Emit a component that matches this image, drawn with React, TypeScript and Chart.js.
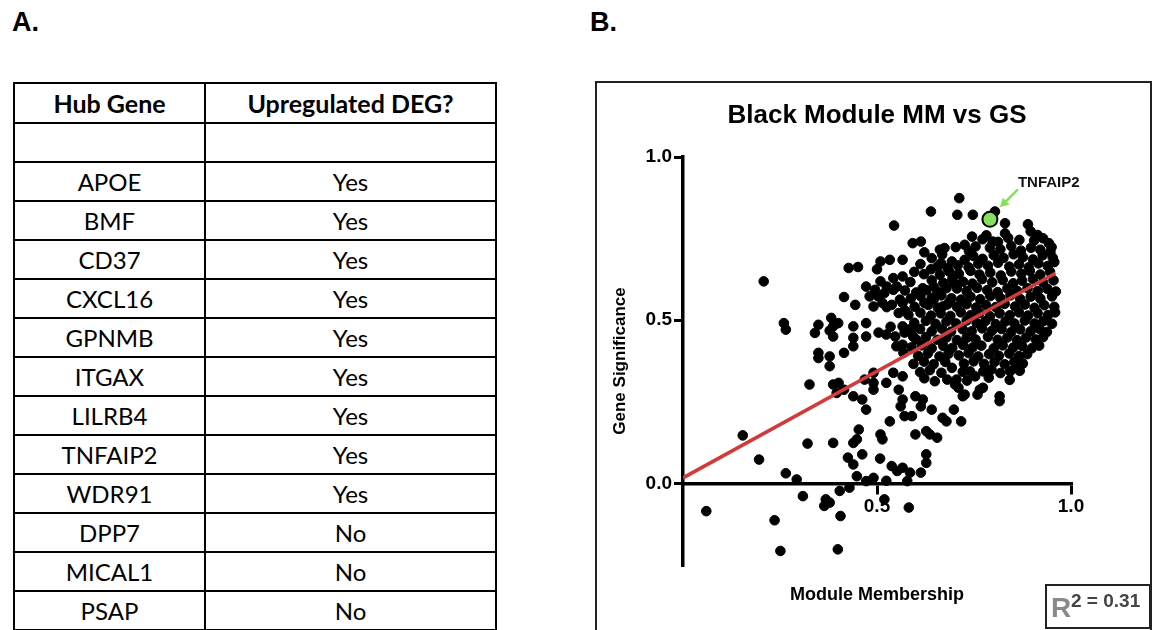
import React, { useEffect, useRef } from "react";
import { Chart, registerables } from "chart.js";

Chart.register(...registerables);

// ---------- Panel A data ----------
const tableHeaders = ["Hub Gene", "Upregulated DEG?"];
const hubGenes = ["APOE", "BMF", "CD37", "CXCL16", "GPNMB", "ITGAX", "LILRB4", "TNFAIP2", "WDR91", "DPP7", "MICAL1", "PSAP"];
const upregulatedDEG = ["Yes", "Yes", "Yes", "Yes", "Yes", "Yes", "Yes", "Yes", "Yes", "No", "No", "No"];

// ---------- Panel B data ----------
const chartTitle = "Black Module MM vs GS";
const xAxisTitle = "Module Membership";
const yAxisTitle = "Gene Significance";
const xTickValues = [0.5, 1.0];
const yTickValues = [0, 0.5, 1.0];
const highlightGene = "TNFAIP2";
const highlightPoint: [number, number] = [0.791, 0.809];
const regressionX = [0, 0.96];
const regressionY = [0.017, 0.644];
const rSquared = "0.31";

// [module membership, gene significance]
const blackModulePoints: [number, number][] = [
  [0.712,0.874],[0.639,0.833],[0.707,0.823],[0.747,0.823],[0.804,0.833],[0.544,0.790],[0.830,0.797],[0.889,0.794],[0.896,0.772],[0.745,0.756],[0.830,0.766],[0.592,0.736],[0.613,0.741],[0.622,0.708],[0.674,0.721],[0.726,0.731],[0.754,0.726],[0.782,0.760],[0.812,0.740],[0.867,0.746],[0.914,0.761],[0.943,0.736],[0.947,0.710],
  [0.566,0.685],[0.533,0.685],[0.509,0.680],[0.427,0.660],[0.451,0.663],[0.500,0.656],[0.639,0.656],[0.665,0.675],[0.693,0.680],[0.726,0.685],
  [0.208,0.619],
  [0.472,0.603],[0.509,0.619],[0.542,0.629],[0.566,0.634],[0.551,0.603],[0.525,0.603],[0.618,0.598],[0.646,0.603],[0.679,0.598],[0.698,0.614],
  [0.481,0.573],[0.495,0.593],[0.503,0.573],[0.519,0.583],[0.542,0.593],[0.415,0.571],[0.444,0.547],[0.491,0.542],[0.514,0.553],[0.525,0.540],[0.538,0.547],[0.566,0.553],[0.559,0.563],[0.556,0.522],[0.572,0.530],[0.622,0.553],[0.646,0.563],[0.669,0.542],[0.688,0.558],[0.717,0.563],
  [0.260,0.491],[0.265,0.471],[0.340,0.461],[0.349,0.486],[0.382,0.507],[0.387,0.481],[0.400,0.491],[0.378,0.468],[0.387,0.450],[0.439,0.481],[0.439,0.446],[0.472,0.491],[0.472,0.450],[0.504,0.462],[0.524,0.456],[0.535,0.480],[0.547,0.450],[0.566,0.481],[0.571,0.462],[0.584,0.472],[0.593,0.450],[0.550,0.420],[0.566,0.425],[0.568,0.400],
  [0.349,0.400],[0.378,0.389],[0.415,0.400],[0.349,0.384],[0.378,0.359],[0.439,0.420],
  [0.326,0.303],[0.387,0.303],[0.401,0.308],[0.396,0.277],[0.415,0.287],[0.439,0.267],[0.462,0.257],[0.472,0.226],[0.468,0.318],[0.491,0.308],[0.491,0.287],[0.491,0.339],[0.524,0.308],[0.542,0.339],[0.566,0.328],[0.556,0.287],[0.566,0.257],[0.561,0.236],[0.533,0.190],[0.571,0.206],[0.590,0.206],[0.599,0.267],[0.618,0.257],[0.613,0.236],[0.641,0.226],[0.599,0.150],[0.627,0.160],[0.636,0.150],[0.655,0.140],[0.669,0.201],[0.679,0.190],[0.698,0.226],[0.717,0.190],[0.721,0.267],[0.726,0.272],[0.759,0.272],[0.773,0.293],[0.816,0.267],[0.816,0.252],
  [0.509,0.150],[0.514,0.135],[0.453,0.165],[0.448,0.135],[0.439,0.124],[0.462,0.089],[0.425,0.079],[0.439,0.058],[0.448,0.022],[0.387,0.124],[0.321,0.122],[0.154,0.147],[0.196,0.073],[0.265,0.031],[0.293,0.012],[0.508,0.076],[0.538,0.053],[0.552,0.038],[0.566,0.048],[0.585,0.033],[0.613,0.033],[0.627,0.063],[0.627,0.089],[0.491,0.017],[0.472,0.007],[0.524,0.008],[0.578,0.007],
  [0.309,-0.039],[0.404,-0.023],[0.429,-0.013],[0.368,-0.049],[0.378,-0.059],[0.364,-0.069],[0.406,-0.100],[0.060,-0.085],[0.236,-0.113],[0.251,-0.207],[0.399,-0.202],[0.519,-0.049],[0.582,-0.074],
  [0.649,0.313],[0.740,0.343],[0.753,0.328],[0.774,0.343],[0.795,0.349],[0.843,0.343],[0.856,0.354],[0.693,0.354],[0.705,0.318],[0.701,0.303],[0.710,0.293],[0.765,0.287],
  [0.772,0.748],[0.798,0.741],[0.838,0.752],[0.905,0.744],[0.928,0.751],
  [0.662,0.716],[0.703,0.724],[0.737,0.712],[0.791,0.722],[0.818,0.717],[0.846,0.727],[0.871,0.713],[0.897,0.722],[0.921,0.716],[0.950,0.724],
  [0.641,0.690],[0.668,0.701],[0.748,0.697],[0.772,0.688],[0.801,0.699],[0.826,0.691],[0.852,0.702],[0.876,0.693],[0.902,0.686],[0.927,0.699],[0.953,0.691],
  [0.612,0.672],[0.656,0.664],[0.682,0.659],[0.708,0.668],[0.736,0.662],[0.761,0.673],[0.786,0.667],[0.812,0.676],[0.841,0.664],[0.866,0.671],[0.891,0.662],[0.916,0.674],[0.940,0.666],[0.957,0.678],
  [0.596,0.648],[0.621,0.641],[0.662,0.639],[0.687,0.648],[0.711,0.642],[0.741,0.651],[0.764,0.640],[0.792,0.646],[0.819,0.637],[0.846,0.649],[0.872,0.642],[0.894,0.651],[0.921,0.640],[0.946,0.648],
  [0.586,0.617],[0.641,0.622],[0.671,0.614],[0.694,0.625],[0.722,0.618],[0.746,0.612],[0.771,0.626],[0.797,0.616],[0.824,0.623],[0.851,0.613],[0.874,0.621],[0.902,0.626],[0.928,0.615],[0.955,0.622],
  [0.572,0.591],[0.601,0.585],[0.627,0.592],[0.656,0.588],[0.706,0.597],[0.731,0.589],[0.758,0.599],[0.784,0.592],[0.811,0.586],[0.836,0.597],[0.861,0.590],[0.888,0.598],[0.914,0.589],[0.939,0.596],[0.961,0.588],
  [0.587,0.566],[0.612,0.574],[0.641,0.569],[0.666,0.576],[0.692,0.567],[0.741,0.572],[0.766,0.564],[0.792,0.574],[0.818,0.568],[0.844,0.576],[0.869,0.565],[0.896,0.572],[0.921,0.566],[0.951,0.573],
  [0.597,0.541],[0.632,0.547],[0.657,0.538],[0.681,0.548],[0.706,0.541],[0.731,0.549],[0.756,0.539],[0.781,0.546],[0.806,0.540],[0.829,0.550],[0.856,0.542],[0.881,0.548],[0.906,0.538],[0.931,0.546],[0.957,0.541],
  [0.581,0.516],[0.612,0.523],[0.639,0.514],[0.664,0.521],[0.689,0.513],[0.716,0.524],[0.741,0.515],[0.764,0.522],[0.791,0.512],[0.816,0.521],[0.842,0.515],[0.866,0.524],[0.889,0.514],[0.914,0.521],[0.941,0.516],[0.959,0.524],
  [0.596,0.492],[0.626,0.498],[0.651,0.489],[0.679,0.496],[0.704,0.490],[0.731,0.499],[0.757,0.491],[0.779,0.497],[0.806,0.488],[0.831,0.496],[0.854,0.490],[0.881,0.499],[0.906,0.490],[0.929,0.497],[0.951,0.489],
  [0.587,0.468],[0.611,0.473],[0.641,0.466],[0.667,0.474],[0.691,0.465],[0.721,0.472],[0.744,0.466],[0.771,0.475],[0.796,0.467],[0.821,0.473],[0.846,0.464],[0.869,0.472],[0.896,0.466],[0.919,0.473],[0.938,0.464],
  [0.601,0.441],[0.626,0.448],[0.656,0.440],[0.679,0.447],[0.706,0.439],[0.731,0.446],[0.754,0.441],[0.786,0.449],[0.811,0.440],[0.836,0.447],[0.861,0.439],[0.884,0.447],[0.909,0.441],[0.928,0.448],
  [0.589,0.417],[0.616,0.423],[0.641,0.414],[0.671,0.421],[0.694,0.415],[0.722,0.424],[0.746,0.416],[0.769,0.422],[0.801,0.414],[0.824,0.423],[0.851,0.416],[0.874,0.421],[0.899,0.414],[0.918,0.422],
  [0.606,0.391],[0.631,0.398],[0.661,0.389],[0.684,0.397],[0.711,0.392],[0.736,0.399],[0.761,0.389],[0.789,0.396],[0.814,0.391],[0.841,0.398],[0.866,0.390],[0.887,0.396],
  [0.594,0.366],[0.621,0.373],[0.646,0.365],[0.676,0.372],[0.724,0.367],[0.749,0.374],[0.776,0.366],[0.803,0.372],[0.829,0.365],[0.854,0.373],[0.876,0.367],
  [0.611,0.341],[0.636,0.347],[0.666,0.339],[0.721,0.342],[0.818,0.338],[0.868,0.345],
  [0.622,0.322],[0.681,0.318],[0.732,0.315],[0.788,0.324],[0.842,0.317],
];

const SANS = '"Liberation Sans", Arial, Helvetica, sans-serif';

const annotationPlugin = {
  id: "panelAnnotations",
  afterDatasetsDraw(chart: any) {
    const { ctx, chartArea, scales } = chart;
    const xs = scales.x;
    const ys = scales.y;
    const cx = xs.getPixelForValue(0.5);
    ctx.save();
    // title
    ctx.fillStyle = "#000";
    ctx.textAlign = "center";
    ctx.textBaseline = "alphabetic";
    ctx.font = `bold 26px ${SANS}`;
    ctx.fillText(chartTitle, cx, chartArea.top - 34);
    // x axis title
    ctx.font = `bold 18px ${SANS}`;
    ctx.fillText(xAxisTitle, cx, chartArea.bottom + 35);
    // highlight label + arrow
    const gx = xs.getPixelForValue(highlightPoint[0]);
    const gy = ys.getPixelForValue(highlightPoint[1]);
    ctx.strokeStyle = "#86e05e";
    ctx.fillStyle = "#86e05e";
    ctx.lineWidth = 2.5;
    const hx = gx + 10, hy = gy - 12, tx = gx + 28, ty = gy - 30;
    ctx.beginPath();
    ctx.moveTo(tx, ty);
    ctx.lineTo(hx + 4, hy - 4);
    ctx.stroke();
    const ang = Math.atan2(hy - ty, hx - tx);
    ctx.beginPath();
    ctx.moveTo(hx, hy);
    ctx.lineTo(hx - 10 * Math.cos(ang - 0.5), hy - 10 * Math.sin(ang - 0.5));
    ctx.lineTo(hx - 10 * Math.cos(ang + 0.5), hy - 10 * Math.sin(ang + 0.5));
    ctx.closePath();
    ctx.fill();
    ctx.fillStyle = "#111";
    ctx.textAlign = "left";
    ctx.font = `bold 15px ${SANS}`;
    ctx.fillText(highlightGene, gx + 28, gy - 32);
    // R^2 box
    const bx = chartArea.right - 25, by = chartArea.bottom + 20, bw = 104, bh = 43;
    ctx.fillStyle = "#fff";
    ctx.fillRect(bx, by, bw, bh);
    ctx.strokeStyle = "#222";
    ctx.lineWidth = 2;
    ctx.strokeRect(bx, by, bw, bh);
    ctx.textAlign = "left";
    ctx.fillStyle = "#8a8a8a";
    ctx.font = `bold 28px ${SANS}`;
    ctx.fillText("R", bx + 5, by + 32);
    ctx.fillStyle = "#444";
    ctx.font = `bold 19px ${SANS}`;
    ctx.fillText("2 = " + rSquared, bx + 25, by + 22);
    ctx.restore();
  },
};

function ScatterPanel() {
  const ref = useRef<HTMLCanvasElement | null>(null);
  useEffect(() => {
    if (!ref.current) return;
    const tickFont = { family: SANS, size: 19, weight: "bold" as const };
    const chart = new Chart(ref.current, {
      type: "scatter",
      data: {
        datasets: [
          {
            label: highlightGene,
            data: [{ x: highlightPoint[0], y: highlightPoint[1] }],
            pointRadius: 7.5,
            pointBackgroundColor: "#86e05e",
            pointBorderColor: "#000",
            pointBorderWidth: 2,
            order: 0,
          } as any,
          {
            type: "line",
            label: "Linear fit",
            data: regressionX.map((x, i) => ({ x, y: regressionY[i] })),
            borderColor: "#d23b3b",
            borderWidth: 3.5,
            pointRadius: 0,
            fill: false,
            order: 1,
          } as any,
          {
            label: "Black module genes",
            data: blackModulePoints.map(([x, y]) => ({ x, y })),
            pointRadius: 4.8,
            pointBackgroundColor: "#000",
            pointBorderColor: "#000",
            pointBorderWidth: 1,
            order: 2,
          } as any,
        ],
      },
      options: {
        animation: false,
        responsive: false,
        maintainAspectRatio: false,
        layout: { padding: { left: 0, top: 75, right: 81, bottom: 65 } },
        plugins: {
          legend: { display: false },
          tooltip: { enabled: false },
          title: { display: false },
        },
        scales: {
          x: {
            type: "linear",
            min: 0,
            max: 1,
            position: { y: 0 } as any,
            afterBuildTicks: (s: any) => {
              s.ticks = xTickValues.map((v) => ({ value: v }));
            },
            ticks: {
              callback: (v: any) => Number(v).toFixed(1),
              font: tickFont,
              color: "#000",
              padding: 3,
              maxRotation: 0,
              autoSkip: false,
            },
            grid: { display: true, drawOnChartArea: false, drawTicks: true, tickLength: 9, lineWidth: 3, color: "#000" },
            border: { display: true, width: 3.5, color: "#000" },
          },
          y: {
            type: "linear",
            min: -0.25,
            max: 1,
            position: "left",
            afterBuildTicks: (s: any) => {
              s.ticks = yTickValues.map((v) => ({ value: v }));
            },
            afterFit: (s: any) => {
              s.width = 87;
            },
            ticks: {
              callback: (v: any) => Number(v).toFixed(1),
              font: tickFont,
              color: "#000",
              padding: 2,
              autoSkip: false,
            },
            grid: { display: true, drawOnChartArea: false, drawTicks: true, tickLength: 9, lineWidth: 3, color: "#000" },
            border: { display: true, width: 3.5, color: "#000" },
            title: {
              display: true,
              text: yAxisTitle,
              color: "#000",
              font: { family: SANS, size: 17, weight: "bold" },
              padding: { top: 14, bottom: 0 },
            },
          },
        },
      } as any,
      plugins: [annotationPlugin],
    });
    return () => chart.destroy();
  }, []);
  return <canvas ref={ref} width={556} height={548} style={{ width: 556, height: 548, display: "block" }} />;
}

const cellStyle: React.CSSProperties = {
  border: "2px solid #000",
  padding: 0,
  textAlign: "center",
  verticalAlign: "middle",
  lineHeight: 1,
};

export default function App() {
  return (
    <div style={{ position: "fixed", left: 0, top: 0, width: 1155, height: 630, background: "#fff", overflow: "hidden" }}>
      <div style={{ position: "absolute", left: 12, top: 7, fontFamily: SANS, fontWeight: "bold", fontSize: 27, lineHeight: "30px" }}>A.</div>
      <div style={{ position: "absolute", left: 590, top: 7, fontFamily: SANS, fontWeight: "bold", fontSize: 27, lineHeight: "30px" }}>B.</div>
      <table
        style={{
          position: "absolute",
          left: 13,
          top: 82,
          width: 482,
          borderCollapse: "collapse",
          tableLayout: "fixed",
          fontFamily: "Lato, 'Open Sans', sans-serif",
          fontSize: 24,
          color: "#000",
        }}
      >
        <colgroup>
          <col style={{ width: 191 }} />
          <col style={{ width: 291 }} />
        </colgroup>
        <thead>
          <tr style={{ height: 40 }}>
            {tableHeaders.map((h) => (
              <th key={h} style={{ ...cellStyle, fontWeight: "bold", fontSize: 25 }}>{h}</th>
            ))}
          </tr>
        </thead>
        <tbody>
          <tr style={{ height: 39 }}>
            <td style={cellStyle}></td>
            <td style={cellStyle}></td>
          </tr>
          {hubGenes.map((g, i) => (
            <tr key={g} style={{ height: 39 }}>
              <td style={cellStyle}>{g}</td>
              <td style={cellStyle}>{upregulatedDEG[i]}</td>
            </tr>
          ))}
        </tbody>
      </table>
      <div
        style={{
          position: "absolute",
          left: 595,
          top: 81,
          width: 557,
          height: 570,
          border: "2px solid #222",
          boxSizing: "border-box",
        }}
      />
      <div style={{ position: "absolute", left: 596, top: 82 }}>
        <ScatterPanel />
      </div>
    </div>
  );
}
